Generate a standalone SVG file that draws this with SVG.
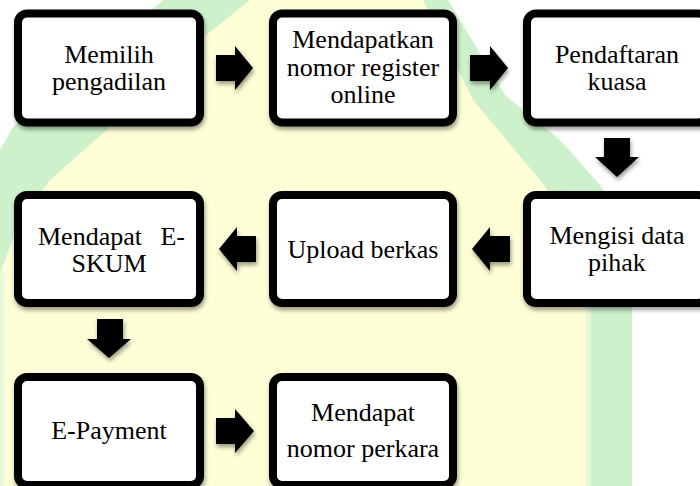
<svg xmlns="http://www.w3.org/2000/svg" width="700" height="486" viewBox="0 0 700 486">
  <defs>
    <filter id="sh" x="-10%" y="-10%" width="125%" height="130%">
      <feDropShadow dx="1" dy="3" stdDeviation="2.2" flood-color="#000" flood-opacity="0.4"/>
    </filter>
    <style>
      .box { fill: #ffffff; stroke: #000000; stroke-width: 8; filter: url(#sh); }
      .arr { fill: #000000; filter: url(#sh); }
      text { font-family: Liberation Serif, DejaVu Serif, serif; font-size: 26px; fill: #000; text-anchor: middle; }
    </style>
  </defs>

  <!-- watermark background -->
  <g id="background">
    <rect x="0" y="0" width="700" height="486" fill="#ffffff"/>
    <polygon fill="#cdf1cb" points="163,0 448,0 505,95 560,140 600,185 625,225 632,265 632,486 0,486 0,150 13,127"/>
    <polygon fill="#fdfdd6" points="250,0 423,0 473,100 540,180 580,235 591,280 591,486 0,486 0,273 20,220 50,180 110,127 150,85 200,40"/>
    <rect x="586" y="280" width="5" height="206" fill="#e4f7da"/>
    <rect x="0" y="273" width="4" height="213" fill="#e8f8da"/>
  </g>

  <g id="connectors">
    <path class="arr" d="M216,55 H235 V46 L253,68 L235,90 V81 H216 Z"/>
    <path class="arr" d="M470,55 H490 V46 L508,68 L490,90 V81 H470 Z"/>
    <path class="arr" d="M604,138 H630 V157 H639 L617,177 L595,157 H604 Z"/>
    <path class="arr" d="M510,236 H490 V227 L472,249 L490,271 V262 H510 Z"/>
    <path class="arr" d="M256,236 H237 V227 L219,249 L237,271 V262 H256 Z"/>
    <path class="arr" d="M97,319 H123 V339 H131 L109,358 L87,339 H97 Z"/>
    <path class="arr" d="M216,418 H235 V409 L254,431 L235,453 V444 H216 Z"/>
  </g>

  <g id="n1">
    <rect class="box" x="18" y="13.5" width="182" height="109" rx="9"/>
    <text x="109" y="63" font-family="Liberation Serif">Memilih</text>
    <text x="109" y="90" font-family="Liberation Serif">pengadilan</text>
  </g>
  <g id="n2">
    <rect class="box" x="273" y="13.5" width="180" height="109" rx="9"/>
    <text x="363" y="48" font-family="Liberation Serif">Mendapatkan</text>
    <text x="363" y="76" font-family="Liberation Serif">nomor register</text>
    <text x="363" y="103" font-family="Liberation Serif">online</text>
  </g>
  <g id="n3">
    <rect class="box" x="527" y="13.5" width="180" height="109" rx="9"/>
    <text x="617" y="63" font-family="Liberation Serif">Pendaftaran</text>
    <text x="617" y="90" font-family="Liberation Serif">kuasa</text>
  </g>
  <g id="n4">
    <rect class="box" x="527" y="195" width="180" height="108" rx="9"/>
    <text x="617" y="244" font-family="Liberation Serif">Mengisi data</text>
    <text x="617" y="271" font-family="Liberation Serif">pihak</text>
  </g>
  <g id="n5">
    <rect class="box" x="273" y="195" width="180" height="108" rx="9"/>
    <text x="363" y="258" font-family="Liberation Serif">Upload berkas</text>
  </g>
  <g id="n6">
    <rect class="box" x="18" y="195" width="182" height="108" rx="9"/>
    <text x="38" y="245" font-family="Liberation Serif" style="text-anchor:start">Mendapat</text>
    <text x="185" y="245" font-family="Liberation Serif" style="text-anchor:end">E-</text>
    <text x="109" y="272" font-family="Liberation Serif">SKUM</text>
  </g>
  <g id="n7">
    <rect class="box" x="18" y="377" width="182" height="108" rx="9"/>
    <text x="109" y="439" font-family="Liberation Serif">E-Payment</text>
  </g>
  <g id="n8">
    <rect class="box" x="273" y="377" width="180" height="108" rx="9"/>
    <text x="363" y="421" font-family="Liberation Serif">Mendapat</text>
    <text x="363" y="457" font-family="Liberation Serif">nomor perkara</text>
  </g>
</svg>
